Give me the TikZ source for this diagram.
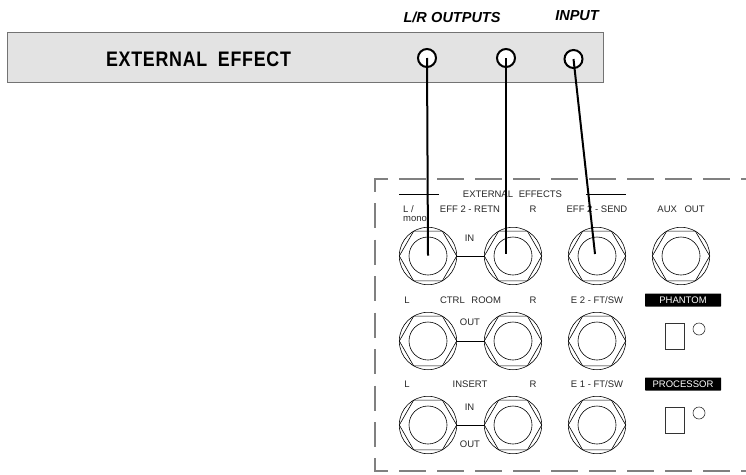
\documentclass[tikz,border=0pt]{standalone}
\usepackage{fontspec}
\setmainfont{Liberation Sans}
\newfontfamily\unitfont[FakeStretch=0.85,LetterSpace=3.5]{Liberation Sans}
\usetikzlibrary{shapes.geometric}

\begin{document}
\begin{tikzpicture}[
    x=1pt, y=-1pt,
    jacknut/.style={circle, draw=black, line width=0.6pt, minimum size=57.4pt, inner sep=0pt},
    jackhex/.style={regular polygon, regular polygon sides=6, draw=black, line width=0.6pt, minimum size=57.4pt, inner sep=0pt},
    jackhole/.style={circle, draw=black, line width=0.6pt, minimum size=38pt, inner sep=0pt},
    socket/.style={circle, draw=black, fill=white, line width=2pt, minimum size=18pt, inner sep=0pt},
    wire/.style={line width=2pt, black},
    link/.style={line width=0.7pt, black},
    panelline/.style={line width=1.8pt, draw=black!50},
    label/.style={font=\fontsize{9.5}{10}\selectfont, text=black!85, inner sep=0pt},
    title/.style={font=\fontsize{14.5}{16}\selectfont\itshape\bfseries, inner sep=0pt},
    badge/.style={fill=black, text=white, rounded corners=0.5pt, font=\fontsize{9.5}{10}\selectfont, minimum width=76pt, minimum height=13pt, inner sep=0pt},
    switchbox/.style={rectangle, draw=black!80, line width=0.7pt, minimum width=19pt, minimum height=26pt, inner sep=0pt},
    lamp/.style={circle, draw=black!80, line width=0.6pt, minimum size=12pt, inner sep=0pt}
]
\useasboundingbox (0,0) rectangle (746,474);

% Effect unit
\node[rectangle, draw=black!55, fill=black!11, line width=0.8pt, minimum width=596pt, minimum height=50pt, inner sep=0pt] (unit) at (305,57) {};
\node[inner sep=0pt, font=\fontsize{21}{23}\selectfont\unitfont\bfseries] (unitname) at (198.5,59.5) {EXTERNAL\hspace{0.5em}EFFECT};
\node[title] (outputs) at (452,17) {L/R\hspace{0.3em}OUTPUTS};
\node[title] (input) at (577,16) {INPUT};
\node[socket] (s1) at (427,58) {};
\node[socket] (s2) at (506,58) {};
\node[socket] (s3) at (573.5,59) {};

% Panel outline
\draw[panelline] (388,179) -- (375,179) -- (375,192);
\draw[panelline] (375,458) -- (375,471) -- (388,471);
\draw[panelline, dash pattern=on 27pt off 11pt] (399,179) -- (746,179);
\draw[panelline, dash pattern=on 27pt off 11pt] (399,471) -- (746,471);
\draw[panelline, dash pattern=on 25pt off 11.5pt] (375,203) -- (375,448);

% Jacks
\foreach \name/\x/\y in {a1/428/256, a2/513/256, a3/597/256, a4/681/256,
                         b1/428/341, b2/513/341, b3/597/341,
                         c1/428/425, c2/513/425, c3/597/425} {
    \node[jacknut] (\name) at (\x,\y) {};
    \node[jackhex] at (\x,\y) {};
    \node[jackhole] at (\x,\y) {};
}
\draw[link] (a1) -- (a2);
\draw[link] (b1) -- (b2);
\draw[link] (c1) -- (c2);

% Section rules
\coordinate (r1) at (399,194);
\coordinate (r2) at (439,194);
\coordinate (r3) at (586,194);
\coordinate (r4) at (626,194);
\draw[link] (r1) -- (r2);
\draw[link] (r3) -- (r4);

% Labels
\node[label] (l1) at (512.5,194) {EXTERNAL\hspace{0.6em}EFFECTS};
\node[label, anchor=west] (l2) at (403,209) {L /};
\node[label, anchor=west] (l3) at (403,219) {mono};
\node[label] (l4) at (470,209) {EFF 2 - RETN};
\node[label] (l5) at (533,209) {R};
\node[label] (l6) at (597,209) {EFF 2 - SEND};
\node[label] (l7) at (681,209) {AUX\hspace{0.8em}OUT};
\node[label] (l8) at (469.5,238) {IN};
\node[label] (l9) at (407,300) {L};
\node[label] (l10) at (470.5,300) {CTRL\hspace{0.7em}ROOM};
\node[label] (l11) at (533,300) {R};
\node[label] (l12) at (597,300) {E 2 - FT/SW};
\node[label] (l13) at (470,322) {OUT};
\node[label] (l14) at (407,384) {L};
\node[label] (l15) at (470,384) {INSERT};
\node[label] (l16) at (533,384) {R};
\node[label] (l17) at (597,384) {E 1 - FT/SW};
\node[label] (l18) at (469.5,407) {IN};
\node[label] (l19) at (470,444) {OUT};

% Switches
\node[badge] (phantom) at (683,300) {PHANTOM};
\node[switchbox] (sw1) at (674.5,336) {};
\node[lamp] (lamp1) at (699,329) {};
\node[badge] (processor) at (683,384) {PROCESSOR};
\node[switchbox] (sw2) at (674.5,420) {};
\node[lamp] (lamp2) at (699,413) {};

% Cables
\coordinate (p1) at (428,255.5);
\coordinate (p2) at (506,254);
\coordinate (p3) at (595,254);
\draw[wire] (s1.center) -- (p1);
\draw[wire] (s2.center) -- (p2);
\draw[wire] (s3.center) -- (p3);
\end{tikzpicture}
\end{document}
